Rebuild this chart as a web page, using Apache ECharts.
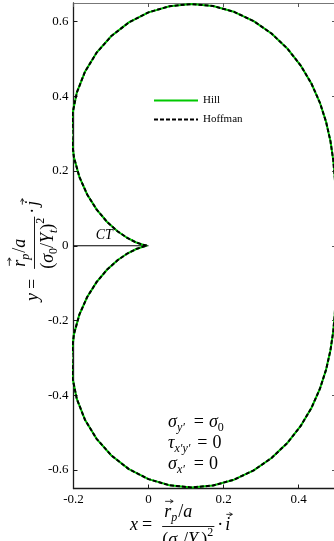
<!DOCTYPE html>
<html>
<head>
<meta charset="utf-8">
<script src="https://cdn.jsdelivr.net/npm/echarts@6/dist/echarts.min.js"></script>
<style>
  html, body { margin: 0; padding: 0; background: #fff; overflow: hidden; }
  /* the plot box runs a few pixels past the right edge of the window */
  #chart { width: 340px; height: 541px; }
</style>
</head>
<body>
<div id="chart"></div>
<script>
// Plastic-zone boundary ahead of the crack tip (normalised), traced counter-clockwise
// from the crack line: upper lobe first, then lower lobe back to the start.
const zoneX = [
  0.5000, 0.5000, 0.4998, 0.4990, 0.4969, 0.4926, 0.4852, 0.4736, 0.4569, 0.4344,
  0.4054, 0.3700, 0.3281, 0.2805, 0.2280, 0.1720, 0.1141, 0.0561, 0.0000, -0.0523,
  -0.0990, -0.1385, -0.1695, -0.1912, -0.2031, -0.2055, -0.1989, -0.1844, -0.1635, -0.1381,
  -0.1102, -0.0819, -0.0554, -0.0325, -0.0149, -0.0038, 0.0000,
  -0.0038, -0.0149, -0.0325, -0.0554, -0.0819, -0.1102, -0.1381, -0.1635, -0.1844, -0.1989,
  -0.2055, -0.2031, -0.1912, -0.1695, -0.1385, -0.0990, -0.0523, 0.0000, 0.0561, 0.1141,
  0.1720, 0.2280, 0.2805, 0.3281, 0.3700, 0.4054, 0.4344, 0.4569, 0.4736, 0.4852,
  0.4926, 0.4969, 0.4990, 0.4998, 0.5000, 0.5000
];
const zoneY = [
  0.0000, 0.0437, 0.0881, 0.1337, 0.1809, 0.2297, 0.2801, 0.3316, 0.3834, 0.4344,
  0.4832, 0.5284, 0.5683, 0.6015, 0.6264, 0.6420, 0.6471, 0.6415, 0.6250, 0.5981,
  0.5616, 0.5169, 0.4657, 0.4100, 0.3518, 0.2935, 0.2370, 0.1844, 0.1372, 0.0967,
  0.0636, 0.0382, 0.0202, 0.0087, 0.0026, 0.0003, 0.0000,
  -0.0003, -0.0026, -0.0087, -0.0202, -0.0382, -0.0636, -0.0967, -0.1372, -0.1844, -0.2370,
  -0.2935, -0.3518, -0.4100, -0.4657, -0.5169, -0.5616, -0.5981, -0.6250, -0.6415, -0.6471,
  -0.6420, -0.6264, -0.6015, -0.5683, -0.5284, -0.4832, -0.4344, -0.3834, -0.3316, -0.2801,
  -0.2297, -0.1809, -0.1337, -0.0881, -0.0437, 0.0000
];

// The crack itself, running along the x axis into the tip at the origin
const crackX = [-0.2, 0];
const crackY = [0, 0];

const seriesNames = ['Hill', 'Hoffman'];
const xTicks = [-0.2, 0, 0.2, 0.4];
const yTicks = [-0.6, -0.4, -0.2, 0, 0.2, 0.4, 0.6];
const xRange = [-0.2, 0.5];
const yRange = [-0.65, 0.65];

const SERIF = '"Liberation Serif", "Times New Roman", serif';
const GREEN = '#00c800';

const chart = echarts.init(document.getElementById('chart'), null, { renderer: 'canvas' });

const zonePoints = zoneX.map((x, i) => [x, zoneY[i]]);
const crackPoints = crackX.map((x, i) => [x, crackY[i]]);

function mainAxis(extent, ticks, pos) {
  return {
    type: 'value', min: extent[0], max: extent[1], position: pos,
    axisLine: { show: true, onZero: false, lineStyle: { color: '#1a1a1a', width: 1.3 } },
    axisTick: { show: true, inside: true, length: 4, customValues: ticks, lineStyle: { color: '#1a1a1a', width: 1 } },
    axisLabel: { show: true, customValues: ticks, margin: 5, color: '#000', fontFamily: SERIF, fontSize: 13 },
    splitLine: { show: false }
  };
}
function mirrorAxis(extent, ticks, pos) {
  return {
    type: 'value', min: extent[0], max: extent[1], position: pos,
    axisLine: { show: true, onZero: false, lineStyle: { color: '#777', width: 1 } },
    axisTick: { show: true, inside: true, length: 4, customValues: ticks, lineStyle: { color: '#555', width: 1 } },
    axisLabel: { show: false },
    splitLine: { show: false }
  };
}

chart.setOption({
  animation: false,
  backgroundColor: '#fff',
  grid: { left: 73.5, top: 3, width: 262.5, height: 485.5, containLabel: false },
  xAxis: [mainAxis(xRange, xTicks, 'bottom'), mirrorAxis(xRange, xTicks, 'top')],
  yAxis: [mainAxis(yRange, yTicks, 'left'), mirrorAxis(yRange, yTicks, 'right')],
  legend: {
    data: seriesNames,
    orient: 'vertical',
    left: 153, top: 93.5,
    padding: 0,
    itemWidth: 44, itemHeight: 14, itemGap: 5,
    itemStyle: { opacity: 0 },
    lineStyle: { opacity: 1 },
    textStyle: { fontFamily: SERIF, fontSize: 11, color: '#000', lineHeight: 14 }
  },
  series: [
    {
      name: seriesNames[0], type: 'line', data: zonePoints,
      xAxisIndex: 0, yAxisIndex: 0,
      symbol: 'none', z: 2,
      lineStyle: { color: GREEN, width: 2 }, itemStyle: { color: GREEN }
    },
    {
      name: seriesNames[1], type: 'line', data: zonePoints,
      xAxisIndex: 0, yAxisIndex: 0,
      symbol: 'none', z: 3,
      lineStyle: { color: '#000', width: 2, type: [4, 2] }, itemStyle: { color: '#000' }
    },
    {
      name: 'crack', type: 'line', data: crackPoints,
      xAxisIndex: 0, yAxisIndex: 0,
      symbol: 'none', z: 1, silent: true,
      lineStyle: { color: '#000', width: 1 }
    }
  ]
});

// ---- math-style text built from positioned pieces ----
const measureCtx = document.createElement('canvas').getContext('2d');
function fontOf(size, italic) {
  return (italic ? 'italic ' : '') + size + 'px ' + SERIF;
}
function textWidth(str, size, italic) {
  measureCtx.font = fontOf(size, italic);
  return measureCtx.measureText(str).width;
}
function textEl(t, x, y, size, italic) {
  return {
    type: 'text', x: x, y: y, silent: true,
    style: {
      text: t, font: fontOf(size, italic), fill: '#000',
      align: 'left', verticalAlign: 'middle', textAlign: 'left', textVerticalAlign: 'middle'
    }
  };
}
function vecArrow(x1, x2, y) {
  return [
    { type: 'line', silent: true, shape: { x1: x1, y1: y, x2: x2, y2: y }, style: { stroke: '#000', lineWidth: 0.8 } },
    { type: 'polyline', silent: true, shape: { points: [[x2 - 3, y - 1.8], [x2, y], [x2 - 3, y + 1.8]] },
      style: { stroke: '#000', lineWidth: 0.8, fill: null } }
  ];
}
// Lays pieces left to right on a line whose text middle is midY.
function seq(items, x, midY, S, SUB) {
  const els = [];
  let cx = x;
  items.forEach(it => {
    const size = (it.sub || it.sup) ? SUB : S;
    const dy = it.sub ? S * 0.3 : (it.sup ? -S * 0.42 : 0);
    cx += it.pre || 0;
    const w = textWidth(it.t, size, it.it);
    els.push(textEl(it.t, cx, midY + dy, size, it.it));
    if (it.vec) els.push(...vecArrow(cx + 1, cx + w + 2, midY - size * 0.62));
    cx += w + (it.post || 0);
  });
  return { els: els, end: cx };
}

// "v = (r_p/a) / (σ0/Yt)^2 · u" with the fraction bar on y = 0
function axisFormula(v, u) {
  const S = 18, SUB = 12;
  const lhs = seq([{ t: v, it: true }, { t: '=', pre: 4 }], 0, -1, S, SUB);
  const fx = lhs.end + 10;
  const num = seq([
    { t: 'r', it: true, vec: true }, { t: 'p', it: true, sub: true },
    { t: '/', pre: 1 }, { t: 'a', it: true }
  ], fx + 2, -14, S, SUB);
  const den = seq([
    { t: '(' }, { t: 'σ', it: true }, { t: '0', sub: true }, { t: '/' },
    { t: 'Y', it: true }, { t: 't', it: true, sub: true }, { t: ')' }, { t: '2', sup: true }
  ], fx, 13.5, S, SUB);
  const barEnd = Math.max(num.end, den.end) + 1;
  const bar = { type: 'line', silent: true, shape: { x1: fx, y1: 0, x2: barEnd, y2: 0 }, style: { stroke: '#000', lineWidth: 0.9 } };
  const rhs = seq([{ t: '·', pre: 3 }, { t: u, it: true, vec: true, pre: 2 }], barEnd, -1, S, SUB);
  return [].concat(lhs.els, num.els, den.els, [bar], rhs.els);
}

// Loading-condition note in the lower part of the plot
function conditionLines() {
  const S = 18, SUB = 12;
  const rows = [
    [{ t: 'σ', it: true }, { t: 'y′', it: true, sub: true }, { t: '=', pre: 9, post: 5 }, { t: 'σ', it: true }, { t: '0', sub: true }],
    [{ t: 'τ', it: true }, { t: 'x′y′', it: true, sub: true }, { t: '=', pre: 7, post: 5 }, { t: '0' }],
    [{ t: 'σ', it: true }, { t: 'x′', it: true, sub: true }, { t: '=', pre: 9, post: 5 }, { t: '0' }]
  ];
  let els = [];
  rows.forEach((r, i) => { els = els.concat(seq(r, 0, i * 21, S, SUB).els); });
  return els;
}

const ctPx = chart.convertToPixel({ gridIndex: 0 }, [-0.118, 0]);

chart.setOption({
  graphic: [
    { type: 'group', x: 130, y: 526.5, children: axisFormula('x', 'i') },
    { type: 'group', x: 34.5, y: 301, rotation: Math.PI / 2, children: axisFormula('y', 'j') },
    { type: 'group', x: 168, y: 422, children: conditionLines() },
    {
      type: 'text', x: ctPx[0], y: ctPx[1] - 10, silent: true,
      style: { text: 'CT', font: fontOf(14, true), fill: '#000', align: 'center', verticalAlign: 'middle', textAlign: 'center', textVerticalAlign: 'middle' }
    }
  ]
});
</script>
</body>
</html>
